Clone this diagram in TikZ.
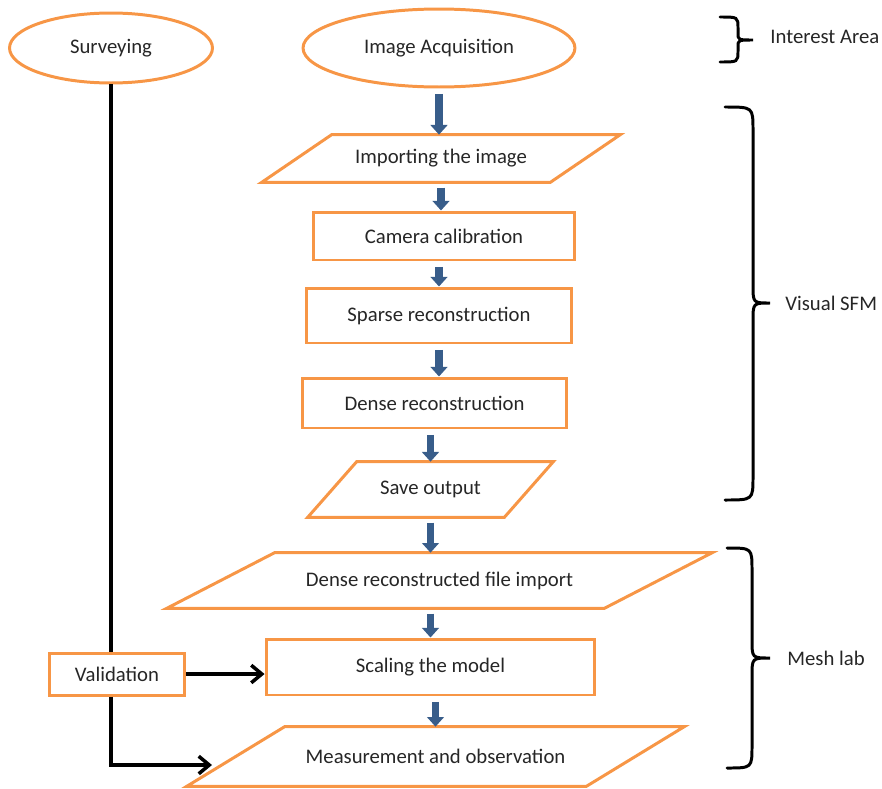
\documentclass[tikz,border=0pt]{standalone}
\usepackage{fontspec}
\setmainfont{Carlito}
\usetikzlibrary{shapes.geometric,arrows.meta}
\definecolor{boxorange}{RGB}{247,150,70}
\definecolor{flowblue}{RGB}{56,93,138}
\definecolor{txtgray}{RGB}{38,38,38}
\tikzset{
  box/.style={draw=boxorange, line width=1.7pt, rectangle, inner sep=0pt, text=txtgray},
  oval/.style={box, ellipse},
  io/.style={rectangle, inner sep=0pt, text=txtgray},
  ioline/.style={draw=boxorange, line width=1.7pt, line join=miter},
  flow/.style={draw=flowblue, line width=4.5pt, -{Triangle[width=9.5pt,length=5.5pt]}, shorten <=3pt},
  wire/.style={draw=black, line width=2pt},
  barb/.style={wire, -{Straight Barb[length=6pt,width=10pt]}},
  curly/.style={draw=black, line width=1.7pt, line cap=round},
  tag/.style={anchor=west, inner sep=0pt, text=txtgray},
}
% parallelogram outline round a named io node: #1 node, #2 half slant
\newcommand\slantbox[2]{\draw[ioline] ([xshift=#2]#1.north west) -- ([xshift=#2]#1.north east) -- ([xshift=-#2]#1.south east) -- ([xshift=-#2]#1.south west) -- cycle;}
\begin{document}
\begin{tikzpicture}[x=0.02cm, y=-0.02cm, font=\fontsize{11.8}{14}\selectfont]
        \useasboundingbox (0,0) rectangle (882,788);
        % Nodes:
        \node[oval, minimum width=4.06cm, minimum height=1.40cm] (survey) at (111,48) {Surveying};
        \node[oval, minimum width=5.44cm, minimum height=1.56cm] (acq) at (439,48) {Image Acquisition};
        \node[io, minimum width=5.76cm, minimum height=0.94cm] (imp) at (441,158.5) {Importing the image};
        \node[box, minimum width=5.24cm, minimum height=0.96cm] (cam) at (444,236) {Camera calibration};
        \node[box, minimum width=5.32cm, minimum height=1.10cm] (sparse) at (439,315.5) {Sparse reconstruction};
        \node[box, minimum width=5.30cm, minimum height=1.00cm] (dense) at (434.5,403) {Dense reconstruction};
        \node[io, minimum width=3.92cm, minimum height=1.10cm] (save) at (430.5,489.5) {Save output};
        \node[io, minimum width=8.74cm, minimum height=1.10cm] (dimp) at (439.5,580.5) {Dense reconstructed file import};
        \node[box, minimum width=6.58cm, minimum height=1.12cm] (scale) at (430.5,667) {Scaling the model};
        \node[io, minimum width=7.98cm, minimum height=1.18cm] (meas) at (435.5,756.5) {Measurement and observation};
        \node[box, minimum width=2.72cm, minimum height=0.84cm] (valid) at (117,674) {Validation};
        \coordinate (mtip) at (212,765);
        \slantbox{imp}{0.70cm}
        \slantbox{save}{0.49cm}
        \slantbox{dimp}{1.08cm}
        \slantbox{meas}{0.98cm}
        % Blue flow arrows:
        \draw[flow] (acq.south) -- (acq.south |- imp.north);
        \draw[flow] (imp.south) -- (imp.south |- cam.north);
        \draw[flow] (sparse.north |- cam.south) -- (sparse.north);
        \draw[flow] (sparse.south) -- (sparse.south |- dense.north);
        \draw[flow] (save.north |- dense.south) -- (save.north);
        \draw[flow] (save.south) -- (save.south |- dimp.north);
        \draw[flow] (scale.north |- dimp.south) -- (scale.north);
        \draw[flow] (meas.north |- scale.south) -- (meas.north);
        % Surveying and validation wires:
        \draw[wire] (survey.south) -- (survey.south |- valid.north);
        \draw[barb] (valid.east) -- (valid.east -| scale.west);
        \draw[barb] (survey.south |- valid.south) |- (mtip);
        % Braces and their labels:
        \draw[curly] (720,17) .. controls (738,17) .. (738,28) -- (738,33) .. controls (738,40) .. (753,40) .. controls (738,40) .. (738,47) -- (738,51) .. controls (738,62) .. (720,62);
        \draw[curly] (725,107) .. controls (753,107) .. (753,130) -- (753,285) .. controls (753,303) .. (770,303) .. controls (753,303) .. (753,321) -- (753,477) .. controls (753,500) .. (725,500);
        \draw[curly] (727,548) .. controls (752,548) .. (752,570) -- (752,640) .. controls (752,658) .. (770,658) .. controls (752,658) .. (752,676) -- (752,746) .. controls (752,768) .. (727,768);
        \node[tag] (area) at (770,37) {Interest Area};
        \node[tag] (sfm) at (785,303) {Visual SFM};
        \node[tag] (mesh) at (787,658) {Mesh lab};
\end{tikzpicture}
\end{document}
